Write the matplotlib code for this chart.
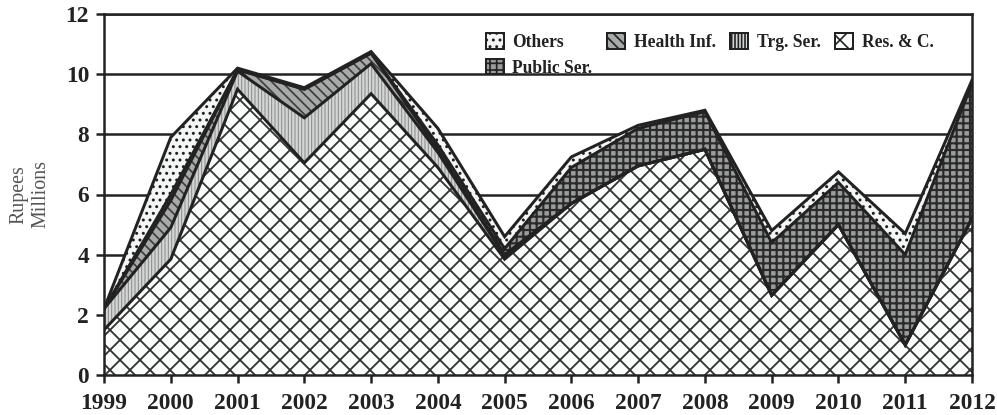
import matplotlib
matplotlib.use("Agg")
import matplotlib.pyplot as plt
import numpy as np
from matplotlib.patches import Patch

years = [1999, 2000, 2001, 2002, 2003, 2004, 2005, 2006, 2007, 2008, 2009, 2010, 2011, 2012]
res_c = [1.5, 3.85, 9.5, 7.05, 9.35, 6.9, 3.85, 5.7, 6.95, 7.5, 2.65, 5.0, 1.0, 5.2]
trg_ser = [0.7, 1.05, 0.6, 1.5, 1.0, 0.5, 0.1, 0.0, 0.0, 0.0, 0.0, 0.0, 0.0, 0.0]
health_inf = [0.0, 0.9, 0.05, 0.95, 0.35, 0.1, 0.05, 0.0, 0.0, 0.0, 0.0, 0.0, 0.0, 0.0]
public_ser = [0.0, 0.2, 0.0, 0.0, 0.0, 0.15, 0.2, 1.2, 1.25, 1.25, 1.75, 1.4, 3.0, 4.5]
others = [0.0, 1.9, 0.05, 0.05, 0.05, 0.55, 0.4, 0.35, 0.1, 0.05, 0.4, 0.35, 0.7, 0.1]
y_ticks = [0, 2, 4, 6, 8, 10, 12]

series = [
    ("Res. & C.", res_c, dict(face="#fbfdfd", hatch="xx", hcol="#333333", hlw=1.1)),
    ("Trg. Ser.", trg_ser, dict(face="#d4d6d6", hatch="||||||", hcol="#8a8a8a", hlw=0.6)),
    ("Health Inf.", health_inf, dict(face="#a8aaaa", hatch="\\\\\\\\", hcol="#3a3a3a", hlw=1.0)),
    ("Public Ser.", public_ser, dict(face="#9a9c9c", hatch="+++", hcol="#2a2a2a", hlw=1.3)),
    ("Others", others, dict(face="#f4f6f6", hatch="...", hcol="#1e1e1e", hlw=1.0)),
]

DPI = 120
fig = plt.figure(figsize=(997 / DPI, 415 / DPI), dpi=DPI)
ax = fig.add_axes([104 / 997, 1 - 375 / 415, (972 - 104) / 997, (375 - 14) / 415])

x = np.array(years, dtype=float)
base = np.zeros(len(years))
handles = {}
for name, vals, st in series:
    top = base + np.array(vals)
    with plt.rc_context({"hatch.linewidth": st["hlw"]}):
        ax.fill_between(x, base, top, facecolor=st["face"], hatch=st["hatch"],
                        edgecolor=st["hcol"], linewidth=0, zorder=2)
        handles[name] = Patch(facecolor=st["face"], hatch=st["hatch"],
                              edgecolor="#222222", linewidth=1.2)
    ax.plot(x, top, color="#222222", lw=1.8, zorder=3, solid_joinstyle="miter")
    base = top

ax.set_xlim(1999, 2012)
ax.set_ylim(0, 12)
ax.set_xticks(years)
ax.set_yticks(y_ticks)
ax.yaxis.grid(True, color="#222222", lw=1.5)
ax.set_axisbelow(True)
for s in ax.spines.values():
    s.set_color("#222222")
    s.set_linewidth(1.5)
    s.set_zorder(4)

tick_font = dict(family="Liberation Serif", weight="bold", size=14)
ax.set_xticklabels([str(y) for y in years], **tick_font)
ax.set_yticklabels([str(v) for v in y_ticks], **tick_font)
ax.tick_params(axis="both", direction="out", length=5, width=1.5, color="#222222",
               labelcolor="#222222", pad=4)
ax.tick_params(axis="x", pad=6)

ax.set_ylabel("Rupees\nMillions", family="Liberation Serif", size=12, color="#555555",
              labelpad=9, linespacing=1.25)

order = ["Others", "Public Ser.", "Health Inf.", "Trg. Ser.", "Res. & C."]
leg = ax.legend([handles[n] for n in order], order, ncol=4, loc="upper left",
                bbox_to_anchor=(486 / 997, 1 - 33 / 415), bbox_transform=fig.transFigure,
                frameon=False, prop=dict(family="Liberation Serif", weight="bold", size=10.5),
                handlelength=1.0, handleheight=1.0, handletextpad=0.5,
                columnspacing=0.85, labelspacing=0.45, borderaxespad=0, borderpad=0)
for t in leg.get_texts():
    t.set_color("#222222")

fig.savefig("out.png", dpi=DPI)
